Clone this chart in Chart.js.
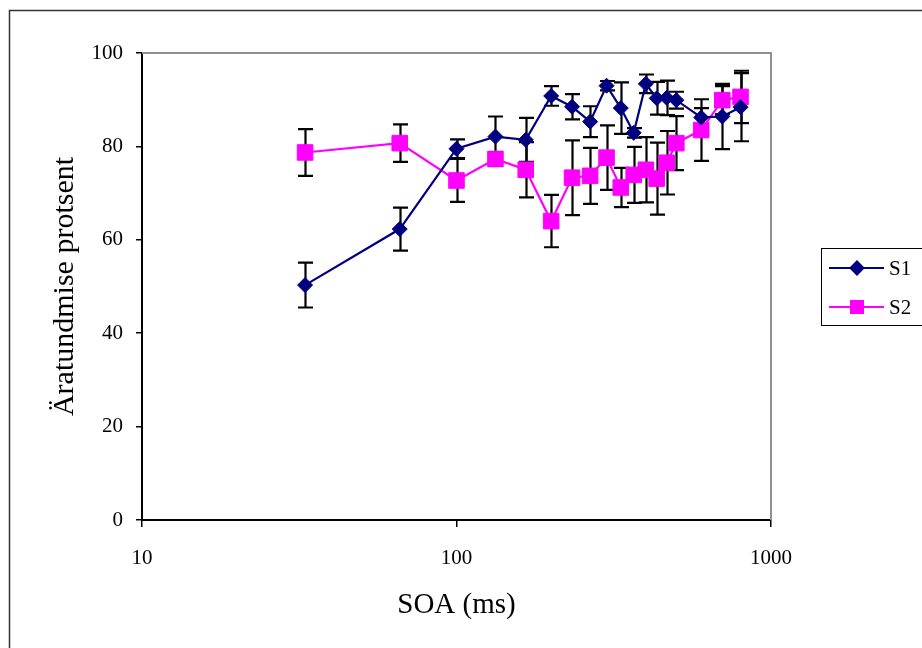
<!DOCTYPE html>
<html>
<head>
<meta charset="utf-8">
<title>Äratundmise protsent</title>
<script src="https://cdn.jsdelivr.net/npm/chart.js@4.4.1/dist/chart.umd.min.js"></script>
<style>
  html, body { margin: 0; padding: 0; background: #fff; }
  #wrap { width: 922px; height: 648px; }
</style>
</head>
<body>
<div id="wrap"><canvas id="chart" width="922" height="648"></canvas></div>
<script>
// SOA (ms) on a log axis
const soa = [33, 66, 100, 133, 166, 200, 233, 266, 300, 333, 366, 400, 433, 466, 500, 600, 700, 800];

// recognition percent and error bar half-lengths
const s1 = [50.3, 62.3, 79.5, 82.1, 81.4, 90.8, 88.5, 85.3, 93.0, 88.2, 82.9, 93.4, 90.3, 90.4, 89.9, 86.2, 86.4, 88.4];
const s1Err = [4.8, 4.6, 2.0, 4.3, 4.7, 2.1, 2.7, 3.3, 1.0, 5.5, 1.0, 2.0, 3.5, 3.7, 1.8, 2.0, 7.0, 7.3];
const s2 = [78.7, 80.7, 72.7, 77.3, 75.0, 64.0, 73.3, 73.7, 77.6, 71.2, 73.9, 75.0, 73.1, 76.5, 80.7, 83.5, 89.9, 90.6];
const s2Err = [5.0, 4.0, 4.6, 1.5, 5.9, 5.6, 8.0, 6.0, 6.9, 4.2, 6.0, 7.0, 7.7, 6.8, 5.8, 6.6, 3.0, 5.6];

const seriesNames = ['S1', 'S2'];
const xTicks = [10, 100, 1000];
const yTicks = [0, 20, 40, 60, 80, 100];

const serif = "'Liberation Serif', 'Times New Roman', serif";

function toPoints(vals) {
  return soa.map((x, i) => ({ x: x, y: vals[i] }));
}

// white page, outer frame, grey top/right plot border, error bars
const framePlugin = {
  id: 'frame',
  beforeDraw(chart) {
    const ctx = chart.ctx;
    ctx.save();
    ctx.fillStyle = '#fff';
    ctx.fillRect(0, 0, chart.width, chart.height);
    ctx.strokeStyle = '#333';
    ctx.lineWidth = 1.5;
    ctx.strokeRect(9.5, 10.5, 1000, 1000);
    ctx.restore();
  },
  beforeDatasetsDraw(chart) {
    const ctx = chart.ctx;
    const a = chart.chartArea;
    ctx.save();
    ctx.strokeStyle = '#909090';
    ctx.lineWidth = 2;
    ctx.beginPath();
    ctx.moveTo(a.left, a.top);
    ctx.lineTo(a.right, a.top);
    ctx.lineTo(a.right, a.bottom);
    ctx.stroke();

    const xs = chart.scales.x, ys = chart.scales.y;
    ctx.strokeStyle = '#000';
    ctx.lineWidth = 2.2;
    chart.data.datasets.forEach(ds => {
      ds.errors.forEach((e, i) => {
        const px = Math.round(xs.getPixelForValue(soa[i])) + 0.5;
        const top = ys.getPixelForValue(ds.data[i].y + e);
        const bot = ys.getPixelForValue(ds.data[i].y - e);
        ctx.beginPath();
        ctx.moveTo(px, top);
        ctx.lineTo(px, bot);
        ctx.moveTo(px - 7.5, top);
        ctx.lineTo(px + 7.5, top);
        ctx.moveTo(px - 7.5, bot);
        ctx.lineTo(px + 7.5, bot);
        ctx.stroke();
      });
    });
    ctx.restore();
  },
  afterDraw(chart) {
    // legend box on the right, partly outside the picture
    const ctx = chart.ctx;
    ctx.save();
    ctx.strokeStyle = '#000';
    ctx.lineWidth = 1;
    ctx.strokeRect(821.5, 248.5, 120, 77);
    const rows = [268, 307];
    chart.data.datasets.forEach((ds, i) => {
      const y = rows[i];
      ctx.strokeStyle = ds.borderColor;
      ctx.lineWidth = 2;
      ctx.beginPath();
      ctx.moveTo(829, y);
      ctx.lineTo(884, y);
      ctx.stroke();
      ctx.fillStyle = ds.pointBackgroundColor;
      ctx.strokeStyle = ds.pointBorderColor;
      Chart.helpers.drawPoint(ctx, {
        pointStyle: ds.pointStyle,
        radius: ds.pointStyle === 'rect' ? 8.5 : 6.5,
        rotation: 0,
        borderWidth: 1
      }, 857, y);
      ctx.fillStyle = '#000';
      ctx.font = '21px ' + serif;
      ctx.textBaseline = 'middle';
      ctx.fillText(ds.label, 889, y + 1);
    });
    ctx.restore();
  }
};

new Chart(document.getElementById('chart'), {
  type: 'line',
  data: {
    datasets: [{
      label: seriesNames[0],
      data: toPoints(s1),
      errors: s1Err,
      borderColor: '#000080',
      borderWidth: 2.2,
      pointStyle: 'rectRot',
      pointRadius: 7.5,
      pointBackgroundColor: '#000080',
      pointBorderColor: '#000080',
      pointBorderWidth: 1,
      tension: 0,
      fill: false
    }, {
      label: seriesNames[1],
      data: toPoints(s2),
      errors: s2Err,
      borderColor: '#ff00ff',
      borderWidth: 2.2,
      pointStyle: 'rect',
      pointRadius: 11,
      pointBackgroundColor: '#ff00ff',
      pointBorderColor: '#ff00ff',
      pointBorderWidth: 1,
      tension: 0,
      fill: false
    }]
  },
  options: {
    responsive: false,
    animation: false,
    layout: { padding: { left: 0, top: 53, right: 151, bottom: 0 } },
    plugins: {
      legend: { display: false },
      tooltip: { enabled: false }
    },
    scales: {
      x: {
        type: 'logarithmic',
        min: 10,
        max: 1000,
        afterBuildTicks: s => { s.ticks = xTicks.map(v => ({ value: v })); },
        afterFit: s => { s.height = 128; },
        ticks: {
          autoSkip: false,
          maxRotation: 0,
          color: '#000',
          padding: 19,
          font: { family: serif, size: 21 },
          callback: v => String(v)
        },
        grid: { drawOnChartArea: false, color: '#000', lineWidth: 1.5, tickLength: 7 },
        border: { color: '#000', width: 2 },
        title: {
          display: true,
          text: 'SOA (ms)',
          color: '#000',
          font: { family: serif, size: 29 },
          padding: { top: 0, bottom: 25 }
        }
      },
      y: {
        min: 0,
        max: 100,
        afterBuildTicks: s => { s.ticks = yTicks.map(v => ({ value: v })); },
        afterFit: s => { s.width = 142; },
        ticks: {
          color: '#000',
          padding: 13,
          font: { family: serif, size: 21 }
        },
        grid: { drawOnChartArea: false, color: '#000', lineWidth: 1.5, tickLength: 6 },
        border: { color: '#000', width: 2 },
        title: {
          display: true,
          text: 'Äratundmise protsent',
          color: '#000',
          font: { family: serif, size: 30 },
          padding: { top: 47, bottom: 0 }
        }
      }
    }
  },
  plugins: [framePlugin]
});
</script>
</body>
</html>
